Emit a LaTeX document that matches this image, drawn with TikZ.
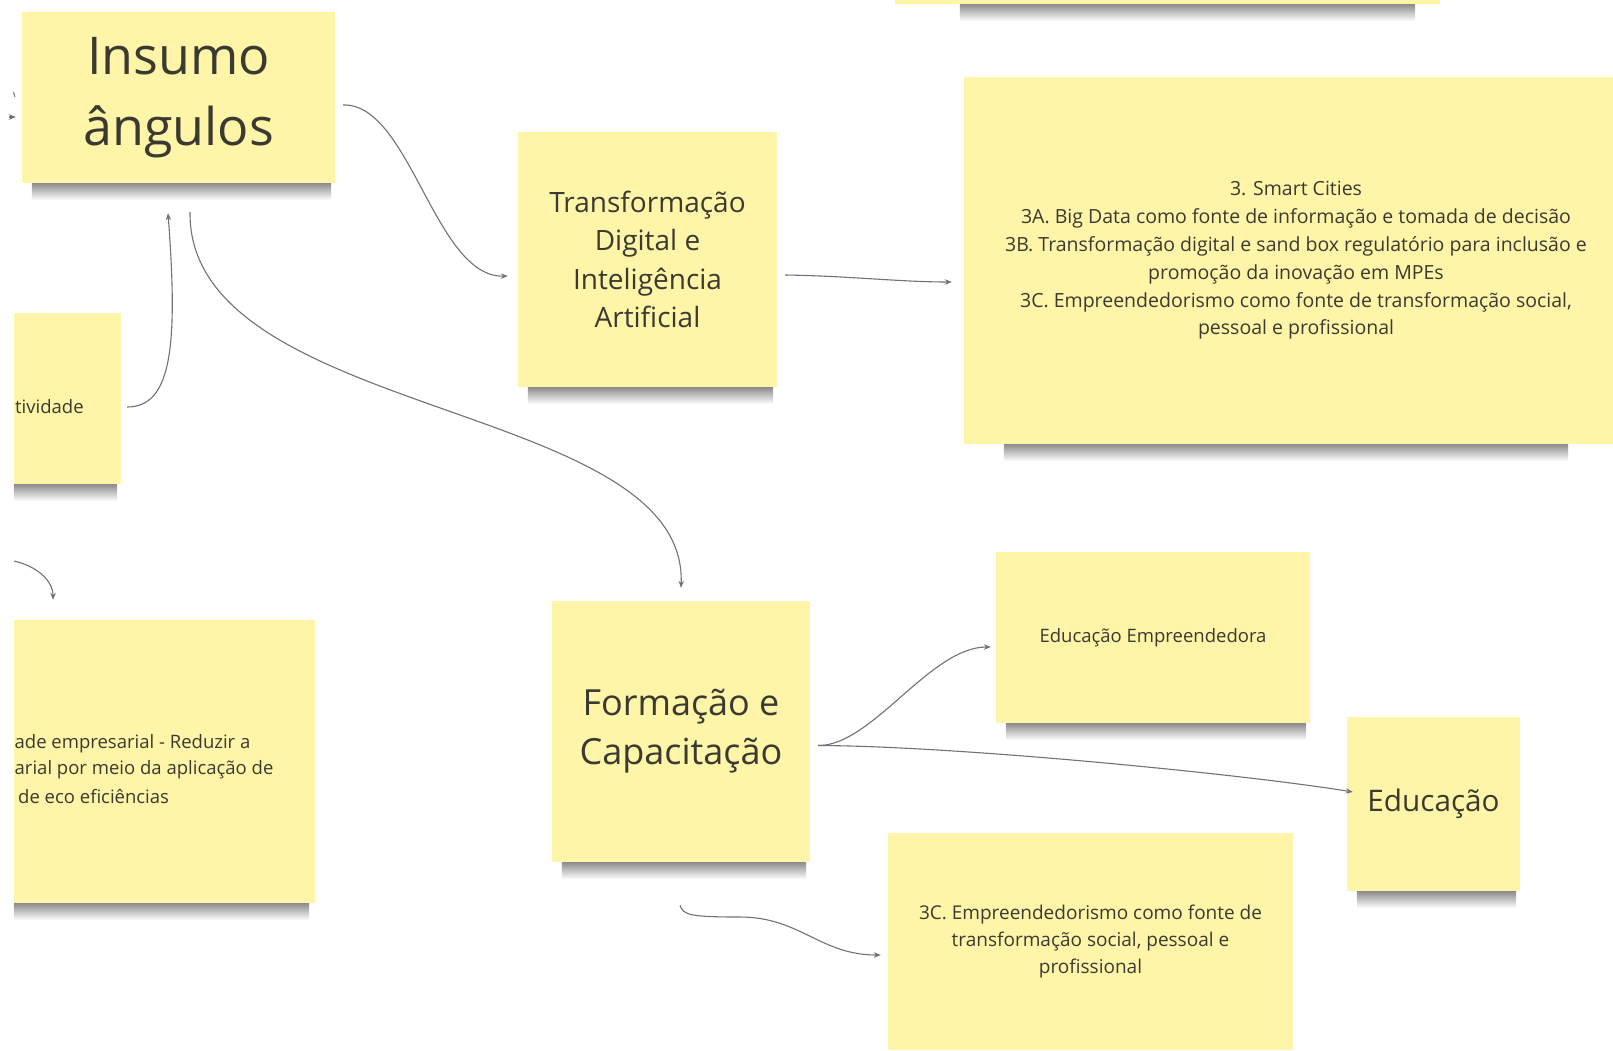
\documentclass[tikz,border=0pt]{standalone}
\usepackage{fontspec}
\setmainfont{Open Sans}
\usetikzlibrary{calc,arrows.meta}
\definecolor{notey}{HTML}{FFF5A9}
\definecolor{notetxt}{HTML}{3A3A30}
\definecolor{linec}{HTML}{727272}
\newcommand{\nshadow}[3]{%
  \shade[top color=black!45, bottom color=white] ($(#1.south west)+(#2,0)$) rectangle ($(#1.south east)+(-#3,17)$);}
\begin{document}
\begin{tikzpicture}[x=1pt,y=-1pt,
  note/.style={fill=notey, draw=none, inner sep=0pt, text=notetxt, align=center},
  ptext/.style={text=notetxt, inner sep=0pt, font=\fontsize{18.5}{26}\selectfont},
  conn/.style={draw=linec, line width=1.1pt, -{Stealth[length=7pt,width=5.5pt]}}]
\useasboundingbox (0,0) rectangle (1613,1050);
\clip (0,0) rectangle (1613,1050);
\fill[white] (0,0) rectangle (1613,1050);

% notes
\node[note, minimum width=545pt, minimum height=128pt] (topn) at (1167.5,-60) {};
\node[note, minimum width=313pt, minimum height=171pt, font=\fontsize{52}{71}\selectfont] (ins) at (178.5,97.5) {Insumo\\ângulos};
\node[note, minimum width=259pt, minimum height=255pt, font=\fontsize{28}{38.5}\selectfont] (tdia) at (647.5,259.5) {\raisebox{7pt}{\parbox{250pt}{\centering Transformação\\Digital e\\Inteligência\\Artificial}}};
\node[note, minimum width=664pt, minimum height=367pt, font=\fontsize{19.5}{27.8}\selectfont] (smart) at (1296,260.5) {3. Smart Cities\\3A. Big Data como fonte de informação e tomada de decisão\\3B. Transformação digital e sand box regulatório para inclusão e\\promoção da inovação em MPEs\\3C. Empreendedorismo como fonte de transformação social,\\pessoal e profissional};
\node[note, minimum width=107pt, minimum height=171pt] (tiv) at (67.5,398.5) {};
\node[note, minimum width=301pt, minimum height=283pt] (bl) at (164.5,761.5) {};
\node[note, minimum width=258pt, minimum height=261pt, font=\fontsize{36}{49}\selectfont] (form) at (681,731.5) {Formação e\\Capacitação};
\node[note, minimum width=314pt, minimum height=171pt, font=\fontsize{18.5}{26}\selectfont] (edemp) at (1153,637.5) {\raisebox{3pt}{Educação Empreendedora}};
\node[note, minimum width=173pt, minimum height=174pt, font=\fontsize{29.7}{36}\selectfont] (edu) at (1433.5,804) {Educação};
\node[note, minimum width=405pt, minimum height=217pt, font=\fontsize{19}{26.7}\selectfont] (c3) at (1090.5,941.5) {3C. Empreendedorismo como fonte de\\transformação social, pessoal e\\profissional};

% partial texts
\node[ptext, anchor=west] (tivtxt) at (15,407) {tividade};
\node[ptext, anchor=west] (bl1) at (14.5,744) {ade empresarial - Reduzir a};
\node[ptext, anchor=west] (bl2) at (14.5,770) {arial por meio da aplicação de};
\node[ptext, anchor=west] (bl3) at (18,796) {de eco eficiências};

% shadows
\nshadow{topn}{65}{25}
\nshadow{ins}{10}{4}
\nshadow{tdia}{10}{4}
\nshadow{smart}{40}{60}
\nshadow{tiv}{0}{4}
\nshadow{bl}{0}{6}
\nshadow{form}{10}{4}
\nshadow{edemp}{10}{4}
\nshadow{edu}{10}{4}

% connectors
\coordinate (lstub) at (9,117);
\coordinate (blstub) at (14,561);
\coordinate (c3stub) at ($(form.south)+(-1,43)$);
\draw[draw=linec, line width=1pt] (13.5,92) -- (15,97);
\draw[conn] (lstub) -- ($(ins.west)+(-6,19.5)$);
\draw[conn] ($(ins.east)+(8,7.5)$) .. controls (410,103) and (435,278) .. ($(tdia.west)+(-10,16.5)$);
\draw[conn] ($(tdia.east)+(8,15.5)$) .. controls (850,276) and (900,282) .. ($(smart.west)+(-12,21.5)$);
\draw[conn] ($(ins.south)+(11.5,29)$) .. controls (188,420) and (688,400) .. ($(form.north)+(0,-13)$);
\draw[conn] ($(tiv.east)+(6,8.5)$) .. controls (172,407) and (178,345) .. ($(ins.south)+(-10.5,30)$);
\draw[conn] (blstub) .. controls (36,566) and (53,580) .. ($(bl.north)+(-111.5,-20)$);
\draw[conn] ($(form.east)+(8,14)$) .. controls (872,746) and (930,647) .. ($(edemp.west)+(-5,9.5)$);
\draw[conn] ($(form.east)+(8,14)$) .. controls (960,746) and (1250,775) .. ($(edu.west)+(6,-12)$);
\draw[conn] (c3stub) .. controls (683,915) and (690,917) .. (740,917) .. controls (800,917) and (820,955) .. ($(c3.west)+(-7,13.5)$);
\end{tikzpicture}
\end{document}
